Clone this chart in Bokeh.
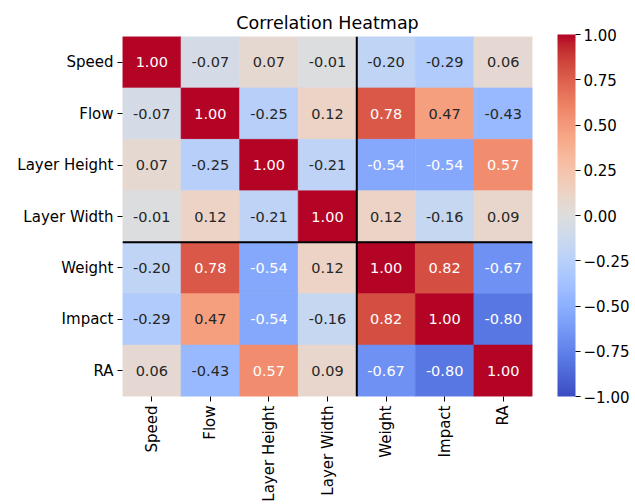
import numpy as np
from bokeh.plotting import figure
from bokeh.models import (ColumnDataSource, LinearColorMapper, ColorBar, FixedTicker,
                          CustomJSTickFormatter, Span, FactorRange)
from bokeh.transform import transform
from bokeh.core.properties import value
from bokeh.embed import file_html
from bokeh.resources import INLINE

names = ["Speed", "Flow", "Layer Height", "Layer Width", "Weight", "Impact", "RA"]
corr = [
    [1.00, -0.07, 0.07, -0.01, -0.20, -0.29, 0.06],
    [-0.07, 1.00, -0.25, 0.12, 0.78, 0.47, -0.43],
    [0.07, -0.25, 1.00, -0.21, -0.54, -0.54, 0.57],
    [-0.01, 0.12, -0.21, 1.00, 0.12, -0.16, 0.09],
    [-0.20, 0.78, -0.54, 0.12, 1.00, 0.82, -0.67],
    [-0.29, 0.47, -0.54, -0.16, 0.82, 1.00, -0.80],
    [0.06, -0.43, 0.57, 0.09, -0.67, -0.80, 1.00],
]
split_at = "Weight"
cbar_ticks = [-1.0, -0.75, -0.5, -0.25, 0.0, 0.25, 0.5, 0.75, 1.0]

# coolwarm (Moreland) control colours
cw = np.array([
    [59, 76, 192], [68, 90, 204], [77, 104, 215], [87, 117, 225], [98, 130, 234],
    [108, 142, 241], [119, 154, 247], [130, 165, 251], [141, 176, 254], [152, 185, 255],
    [163, 194, 255], [174, 201, 253], [184, 208, 249], [194, 213, 244], [204, 217, 238],
    [213, 219, 230], [221, 221, 221], [229, 216, 209], [236, 211, 197], [241, 204, 184],
    [245, 196, 172], [247, 187, 159], [247, 177, 147], [247, 166, 134], [244, 154, 123],
    [241, 141, 111], [236, 127, 99], [229, 112, 88], [222, 96, 77], [213, 80, 66],
    [203, 62, 56], [192, 40, 47], [180, 4, 38]], dtype=float)
pos = np.linspace(0, 1, len(cw))
t = np.linspace(0, 1, 256)
palette = ["#%02x%02x%02x" % tuple(int(round(np.interp(tt, pos, cw[:, k]))) for k in range(3)) for tt in t]

xs, ys, vals, labels, tcols = [], [], [], [], []
for i, row in enumerate(corr):
    for j, v in enumerate(row):
        xs.append(names[j]); ys.append(names[i]); vals.append(v)
        labels.append("%.2f" % v)
        tcols.append("#ffffff" if abs(v) > 0.5 else "#262626")
src = ColumnDataSource(dict(x=xs, y=ys, v=vals, label=labels, tc=tcols))

mapper = LinearColorMapper(palette=palette, low=-1, high=1)

W, H = 635, 504
p = figure(width=W, height=H, output_backend="svg", toolbar_location=None,
           x_range=FactorRange(*names), y_range=FactorRange(*names[::-1]),
           title="Correlation Heatmap", min_border_left=122, min_border_top=36,
           min_border_right=W - 532, min_border_bottom=H - 398)
p.rect(x="x", y="y", width=1, height=1, source=src,
       fill_color=transform("v", mapper), line_color=transform("v", mapper), line_width=0.6)
p.text(x="x", y="y", text="label", source=src, text_color="tc",
       text_align="center", text_baseline="middle",
       text_font=value("DejaVu Sans"), text_font_size="14.5px")

k = names.index(split_at)
p.add_layout(Span(location=k, dimension="height", line_color="black", line_width=2))
p.add_layout(Span(location=len(names) - k, dimension="width", line_color="black", line_width=2))

p.title.align = "center"
p.title.text_font = "DejaVu Sans"
p.title.text_font_size = "17.5px"
p.title.text_font_style = "normal"
p.title.text_color = "black"
p.title.standoff = 8

for ax in (p.xaxis[0], p.yaxis[0]):
    ax.axis_line_color = None
    ax.major_tick_line_color = "black"
    ax.major_tick_out = 5
    ax.major_tick_in = 0
    ax.minor_tick_line_color = None
    ax.major_label_text_font = "DejaVu Sans"
    ax.major_label_text_font_size = "15px"
    ax.major_label_text_color = "black"
    ax.major_label_standoff = 4
p.xaxis.major_label_orientation = np.pi / 2
p.grid.visible = False
p.outline_line_color = None

cb = ColorBar(color_mapper=mapper, width=18, height=362,
              ticker=FixedTicker(ticks=cbar_ticks),
              formatter=CustomJSTickFormatter(code="return (tick < 0 ? '\u2212' : '') + Math.abs(tick).toFixed(2);"),
              major_tick_out=5, major_tick_in=0, major_tick_line_color="black",
              major_label_text_font="DejaVu Sans", major_label_text_font_size="15px",
              major_label_text_color="black", label_standoff=3,
              bar_line_color=None, border_line_color=None, background_fill_color=None,
              padding=0, margin=0, location=(25, 0))
p.add_layout(cb, "right")

open("out.html", "w").write(file_html(p, INLINE))
